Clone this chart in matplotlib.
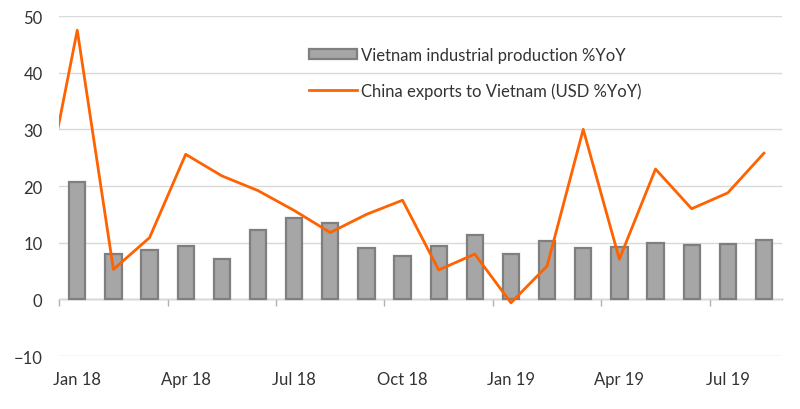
import numpy as np
import matplotlib.pyplot as plt

plt.rcParams["font.family"] = ["Lato", "DejaVu Sans"]

months = ["Jan 18", "Feb 18", "Mar 18", "Apr 18", "May 18", "Jun 18", "Jul 18",
          "Aug 18", "Sep 18", "Oct 18", "Nov 18", "Dec 18", "Jan 19", "Feb 19",
          "Mar 19", "Apr 19", "May 19", "Jun 19", "Jul 19", "Aug 19"]
vn_ip = [20.8, 8.0, 8.7, 9.4, 7.1, 12.2, 14.3, 13.4, 9.1, 7.6,
         9.5, 11.3, 8.0, 10.3, 9.1, 9.3, 10.0, 9.6, 9.7, 10.5]
# line series starts in Dec 17 (clipped by the axis edge)
cn_exports = [15.1, 47.5, 5.3, 10.9, 25.6, 21.8, 19.2, 15.7, 11.8, 15.0, 17.5,
              5.2, 8.0, -0.6, 5.9, 30.0, 7.1, 23.0, 16.0, 18.8, 25.8]

orange = "#ff6200"
x = np.arange(len(months))
x_line = np.arange(-1, len(months))

fig = plt.figure(figsize=(8, 4.1), dpi=100)
ax = fig.add_axes([0.074, 0.129, 0.9035, 0.8295])

bars = ax.bar(x, vn_ip, width=0.45, color="#a6a6a6", edgecolor="#7f7f7f", linewidth=1.6,
              label="Vietnam industrial production %YoY", zorder=2)
line, = ax.plot(x_line, cn_exports, color=orange, linewidth=2.0,
                label="China exports to Vietnam (USD %YoY)", zorder=3)

ax.set_xlim(-0.5, len(months) - 0.5)
ax.set_ylim(-10, 50)
ax.set_yticks(range(-10, 51, 10))
ax.grid(axis="y", color="#d9d9d9", linewidth=1.0, zorder=0)
ax.set_axisbelow(True)
for s in ax.spines.values():
    s.set_visible(False)
ax.tick_params(axis="y", length=0, pad=12, labelsize=12, labelcolor="#333333")

ax.set_xticks(x[::3])
ax.set_xticklabels(months[::3])
ax.tick_params(axis="x", length=0, pad=11, labelsize=12, labelcolor="#333333")

# axis line at zero with quarter tick marks
sec = ax.secondary_xaxis(1 / 6)
sec.spines["bottom"].set_color("#b0b0b0")
sec.spines["bottom"].set_linewidth(1.0)
sec.set_xticks(np.arange(-0.5, len(months), 3))
sec.tick_params(axis="x", length=5, width=1.0, color="#b0b0b0", labelbottom=False)

leg = ax.legend(handles=[bars, line], loc="upper left", bbox_to_anchor=(0.368, 0.92),
                bbox_transform=fig.transFigure, frameon=False, fontsize=12,
                handlelength=2.85, handleheight=0.6, handletextpad=0.25, labelspacing=1.15)
for t in leg.get_texts():
    t.set_color("#333333")

fig.savefig("out.png", dpi=100)
plt.close(fig)
